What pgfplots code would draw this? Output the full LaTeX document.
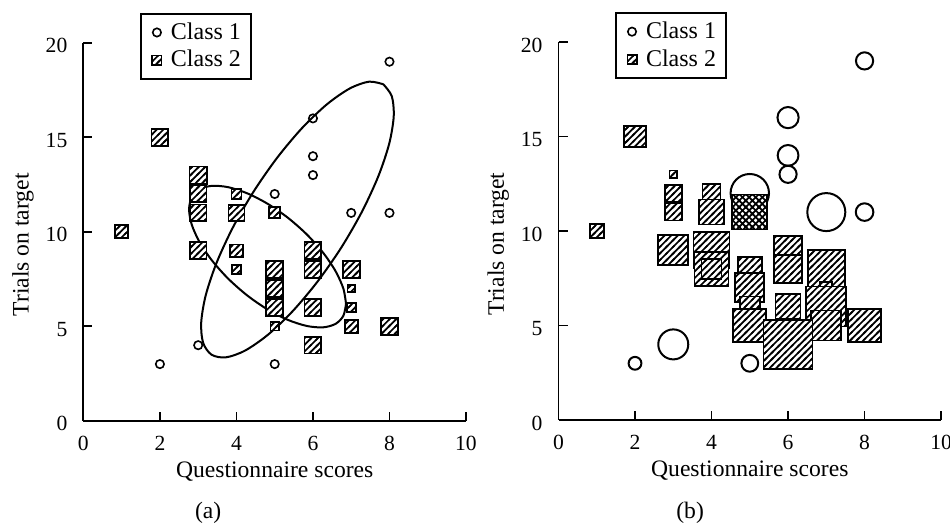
\documentclass[border=0pt]{standalone}
\usepackage{fontspec}
\setmainfont{Liberation Serif}
\usepackage{pgfplots}
\pgfplotsset{compat=1.18}
\usepackage{pgfplotstable}
\usetikzlibrary{patterns}

\pgfdeclarepatternformonly{hatch}{\pgfqpoint{-1pt}{-1pt}}{\pgfqpoint{4.3pt}{4.3pt}}{\pgfqpoint{3.3pt}{3.3pt}}{%
  \pgfsetlinewidth{0.85pt}%
  \pgfpathmoveto{\pgfqpoint{-0.6pt}{-0.6pt}}%
  \pgfpathlineto{\pgfqpoint{3.9pt}{3.9pt}}%
  \pgfusepath{stroke}}
\pgfdeclarepatternformonly{xhatch}{\pgfqpoint{-1pt}{-1pt}}{\pgfqpoint{4.3pt}{4.3pt}}{\pgfqpoint{3.3pt}{3.3pt}}{%
  \pgfsetlinewidth{0.85pt}%
  \pgfpathmoveto{\pgfqpoint{-0.6pt}{-0.6pt}}%
  \pgfpathlineto{\pgfqpoint{3.9pt}{3.9pt}}%
  \pgfpathmoveto{\pgfqpoint{-0.6pt}{3.9pt}}%
  \pgfpathlineto{\pgfqpoint{3.9pt}{-0.6pt}}%
  \pgfusepath{stroke}}

\pgfdeclareplotmark{hsq}{%
  \pgfsetlinewidth{0.9pt}%
  \pgfpathrectangle{\pgfqpoint{-\pgfplotmarksize}{-\pgfplotmarksize}}{\pgfqpoint{2\pgfplotmarksize}{2\pgfplotmarksize}}%
  \pgfsetfillcolor{white}\pgfusepath{fill}%
  \pgfpathrectangle{\pgfqpoint{-\pgfplotmarksize}{-\pgfplotmarksize}}{\pgfqpoint{2\pgfplotmarksize}{2\pgfplotmarksize}}%
  \pgfsetfillpattern{hatch}{black}\pgfusepath{fill}%
  \pgfpathrectangle{\pgfqpoint{-\pgfplotmarksize}{-\pgfplotmarksize}}{\pgfqpoint{2\pgfplotmarksize}{2\pgfplotmarksize}}%
  \pgfsetstrokecolor{black}\pgfusepath{stroke}}
\pgfdeclareplotmark{xsq}{%
  \pgfsetlinewidth{0.9pt}%
  \pgfpathrectangle{\pgfqpoint{-\pgfplotmarksize}{-\pgfplotmarksize}}{\pgfqpoint{2\pgfplotmarksize}{2\pgfplotmarksize}}%
  \pgfsetfillcolor{white}\pgfusepath{fill}%
  \pgfpathrectangle{\pgfqpoint{-\pgfplotmarksize}{-\pgfplotmarksize}}{\pgfqpoint{2\pgfplotmarksize}{2\pgfplotmarksize}}%
  \pgfsetfillpattern{xhatch}{black}\pgfusepath{fill}%
  \pgfpathrectangle{\pgfqpoint{-\pgfplotmarksize}{-\pgfplotmarksize}}{\pgfqpoint{2\pgfplotmarksize}{2\pgfplotmarksize}}%
  \pgfsetstrokecolor{black}\pgfusepath{stroke}}

% Panel (a): class 1 circles
\pgfplotstableread{
x y
2 3
3 4
5 3
5 12
6 13
6 14
6 16
7 11
8 11
8 19
7 6
}\aone
% Panel (a): class 2 squares, s = mark size (pt)
\pgfplotstableread{
x y s
1 10 3.2
2 15 4.2
3 13 4.3
3 12 4.2
3 11 4.2
4 12 2.5
4 11 4.0
5 11 2.75
3 9 4.2
4 9 3.1
4 8 2.25
5 8 4.2
5 7 4.2
5 6 4.2
5 5 2.1
6 9 4.2
6 8 4.2
6 6 4.2
6 4 4.2
7 8 4.2
7 7 1.9
7 6 2.3
7 5 3.25
8 5 4.2
}\atwo
% Panel (b): class 1 circles
\pgfplotstableread{
x y s
8 19 4.3
6 16 5.3
6 14 5.2
6 13 4.3
5 12 9.6
7 11 9.5
8 11 4.4
2 3 3.2
3 4 7.5
5 3 4.2
7 6 4.0
}\bone
% Panel (b): class 2 squares
\pgfplotstableread{
x y s
2 15 5.4
3 13 1.9
3 12 4.25
4 12 4.5
3 11 4.25
4 11 6.25
1 10 3.5
3 9 7.5
4 9 9.0
6 9 7.0
4 8 8.5
4 8 5.0
5 8 6.0
6 8 7.0
7 8 9.25
5 7 7.25
7 7 3.0
5 6 5.0
6 6 6.25
7 6 10.0
5 5 8.25
7 5 7.5
8 5 8.25
6 4 12.25
}\btwo
\pgfplotstableread{
x y s
5 11 8.75
}\bthree

\newcommand{\lblfont}{\fontsize{11.8}{13}\selectfont}
\newcommand{\legfont}{\fontsize{12}{13}\selectfont}

\pgfplotsset{
  myax/.style={
    scale only axis, width=191.3pt, height=189pt,
    xmin=0, xmax=10, ymin=0, ymax=20,
    axis x line*=bottom, axis y line*=left,
    axis line style={line width=0.9pt, -},
    xtick={0,2,...,10}, ytick={0,5,...,20},
    tick align=inside, major tick length=4.5pt,
    tick style={line width=0.9pt, black},
    /pgf/number format/assume math mode=true,
    tick label style={font=\fontsize{10.8}{12}\selectfont},
    xticklabel style={yshift=-4pt},
    yticklabel style={xshift=-4.5pt, yshift=-1.5pt},
    every axis x label/.style={at={(axis description cs:0.5,-0.135)}, anchor=center},
    every axis y label/.style={at={(axis description cs:-0.1576,0.4656)}, rotate=90, anchor=center},
    xlabel={\lblfont Questionnaire scores},
    ylabel={\lblfont Trials on target},
    clip=false,
    legend style={at={(axis description cs:0.148,1.0795)}, anchor=north west,
      draw=black, line width=0.9pt,
      inner ysep=2.5pt, row sep=0pt,
      nodes={inner ysep=2pt},
      cells={anchor=west}},
  },
  c1leg/.style={only marks, mark=o, mark size=2.1pt, black, line width=0.8pt,
    legend image code/.code={\path[draw=none,fill=none] (-5pt,0pt) -- (5pt,0pt); \draw[##1] plot coordinates {(0pt,0pt)};}},
  c2leg/.style={only marks, mark=hsq, mark size=2.3pt, black,
    legend image code/.code={\path[draw=none,fill=none] (-5pt,0pt) -- (5pt,0pt); \draw[##1] plot coordinates {(0pt,0pt)};}},
  varsize/.style={forget plot, only marks, scatter,
    scatter/use mapped color={draw=black, fill=white},
    visualization depends on={\thisrow{s}\as\perpointmarksize},
    scatter/@pre marker code/.append style={/tikz/mark size=\perpointmarksize pt}},
}

\begin{document}
\begin{tikzpicture}
\path[use as bounding box] (0,0) rectangle (475pt,262pt);

% ---------------- Panel (a)
\begin{axis}[myax, at={(41.7pt,51.6pt)}, anchor=south west]
\addlegendimage{c1leg}
\addlegendentry{\legfont Class 1}
\addlegendimage{c2leg}
\addlegendentry{\legfont Class 2}
\addplot[forget plot, only marks, mark=o, mark size=2.1pt, black, line width=0.8pt] table[x=x,y=y] {\aone};
\addplot[varsize, mark=hsq] table[x=x,y=y] {\atwo};
% class 1 contour
\addplot[forget plot, black, line width=1pt, smooth, mark=none] coordinates {
(7.839,17.804) (8.060,17.177) (8.111,16.106) (7.993,14.663) (7.710,12.946) (7.283,11.072)
(6.742,9.171) (6.121,7.370) (5.466,5.792) (4.819,4.545) (4.225,3.714) (3.724,3.357)
(3.351,3.496) (3.130,4.123) (3.079,5.194) (3.197,6.637) (3.480,8.354) (3.907,10.228)
(4.449,12.129) (5.069,13.930) (5.724,15.508) (6.371,16.755) (6.965,17.586) (7.466,17.943)
(7.839,17.804)
};
% class 2 contour
\addplot[forget plot, black, line width=1pt, smooth, mark=none] coordinates {
(6.864,6.190) (6.794,5.551) (6.589,5.126) (6.263,4.944) (5.839,5.017) (5.344,5.340)
(4.813,5.891) (4.282,6.632) (3.787,7.515) (3.363,8.476) (3.037,9.452) (2.832,10.377)
(2.762,11.186) (2.832,11.825) (3.037,12.250) (3.363,12.432) (3.787,12.359) (4.282,12.036)
(4.813,11.485) (5.344,10.744) (5.839,9.861) (6.263,8.900) (6.589,7.924) (6.794,6.999)
(6.864,6.190)
};
\node[font=\lblfont] at (axis description cs:0.326,-0.2446) {(a)};
\end{axis}

% ---------------- Panel (b)
\begin{axis}[myax, at={(279.25pt,52pt)}, anchor=south west]
\addlegendimage{c1leg}
\addlegendentry{\legfont Class 1}
\addlegendimage{c2leg}
\addlegendentry{\legfont Class 2}
\addplot[varsize, mark=o, line width=1pt] table[x=x,y=y] {\bone};
\addplot[varsize, mark=hsq] table[x=x,y=y] {\btwo};
\addplot[varsize, mark=xsq] table[x=x,y=y] {\bthree};
\node[font=\lblfont] at (axis description cs:0.344,-0.246) {(b)};
\end{axis}
\end{tikzpicture}
\end{document}
